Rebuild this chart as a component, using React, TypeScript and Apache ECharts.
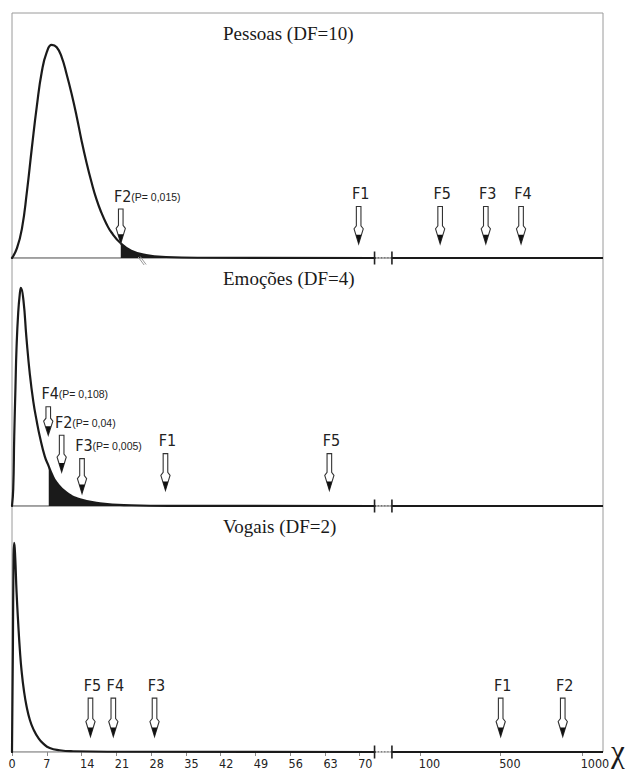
import React, { useEffect, useRef } from "react";
import * as echarts from "echarts";

// ---- axis ----
const tickValues = [0, 7, 14, 21, 28, 35, 42, 49, 56, 63, 70, 100, 500, 1000];
const tickLabels = ["0", "7", "14", "21", "28", "35", "42", "49", "56", "63", "70", "100", "500", "1000"];
const breakStart = 73;
const breakEnd = 76.5;
const axisMax = 119;

// broken x scale: linear up to the break, then 100 / 500 / 1000 anchors
function toAxis(chi: number): number {
  if (chi <= breakStart) return chi;
  if (chi <= 500) return 82.2 + ((chi - 100) / 400) * 16.2;
  return 98.4 + ((chi - 500) / 500) * 16.4;
}
const tickPositions = tickValues.map(toAxis);

// ---- panels ----
const titles = ["Pessoas (DF=10)", "Emoções (DF=4)", "Vogais (DF=2)"];

// curve heights in % of panel height
const pessoasChi = [0, 1, 2, 3, 4, 5, 6, 7, 8, 9, 10, 11, 12, 13, 14, 15, 16, 17, 18, 19, 20, 21.9, 24, 27, 31, 38, 73];
const pessoasH = [0, 4, 12, 27, 45, 62, 76, 84, 87, 86, 82, 75, 67, 58, 48, 39, 31, 24, 18.5, 14, 10.5, 6, 3, 1.2, 0.4, 0.1, 0];
const pessoasShadeFrom = 21.9;

const emocoesChi = [0, 0.25, 0.45, 0.7, 0.9, 1.25, 1.6, 1.8, 2.3, 2.9, 3.6, 4.3, 5, 5.6, 6.6, 7.4, 8, 9, 11, 13.7, 17.7, 24, 32, 73];
const emocoesH = [0, 7, 28, 48, 63, 78, 86, 88, 83, 68, 53, 42, 34, 28, 20, 16, 13, 9.4, 5.4, 2.7, 1.1, 0.3, 0.05, 0];
const emocoesShadeFrom = 7.4;

const vogaisChi = [0, 0.18, 0.32, 0.45, 0.65, 0.92, 1.26, 1.6, 1.93, 2.4, 2.94, 3.6, 4.3, 5.3, 6.3, 7.6, 9.6, 12.3, 20, 73];
const vogaisH = [0, 42, 80, 85, 79, 65, 52, 41, 33, 25, 18.5, 13, 9.3, 5.7, 3.4, 1.6, 0.7, 0.3, 0.1, 0];

// arrows
const pessoasArrowNames = ["F2", "F1", "F5", "F3", "F4"];
const pessoasArrowChi = [21.9, 69.8, 199, 426, 625];
const pessoasArrowTip = [6, 5.8, 5.8, 5.8, 5.8];
const pessoasArrowTop = [20, 21, 21, 21, 21];
const pessoasArrowP = ["(P= 0,015)", "", "", "", ""];

const emocoesArrowNames = ["F4", "F2", "F3", "F1", "F5"];
const emocoesArrowChi = [7.3, 10.0, 14.1, 30.9, 63.9];
const emocoesArrowTip = [28.5, 13.7, 5, 6.3, 6.3];
const emocoesArrowTop = [40, 28.5, 19.1, 21.1, 21.1];
const emocoesArrowP = ["(P= 0,108)", "(P= 0,04)", "(P= 0,005)", "", ""];

const vogaisArrowNames = ["F5", "F4", "F3", "F1", "F2"];
const vogaisArrowChi = [15.8, 20.4, 28.7, 500, 881];
const vogaisArrowTip = [6.3, 6.3, 6.3, 6.3, 6.3];
const vogaisArrowTop = [21.9, 21.9, 21.9, 21.9, 21.9];
const vogaisArrowP = ["", "", "", "", ""];

const panels = [
  { chi: pessoasChi, h: pessoasH, shadeFrom: pessoasShadeFrom as number | null, names: pessoasArrowNames, aChi: pessoasArrowChi, tip: pessoasArrowTip, top: pessoasArrowTop, p: pessoasArrowP },
  { chi: emocoesChi, h: emocoesH, shadeFrom: emocoesShadeFrom as number | null, names: emocoesArrowNames, aChi: emocoesArrowChi, tip: emocoesArrowTip, top: emocoesArrowTop, p: emocoesArrowP },
  { chi: vogaisChi, h: vogaisH, shadeFrom: null as number | null, names: vogaisArrowNames, aChi: vogaisArrowChi, tip: vogaisArrowTip, top: vogaisArrowTop, p: vogaisArrowP },
];

const gridTops = [13, 258, 506];
const gridHeights = [245, 248, 246];
const GRID_LEFT = 12;
const GRID_RIGHT = 28;

const NARROW = "'Liberation Sans Narrow', 'DejaVu Sans Condensed', 'Liberation Sans', Arial, sans-serif";
const SANS = "'Liberation Sans', Arial, sans-serif";
const SERIF = "'Liberation Serif', 'Times New Roman', serif";

export default function App() {
  const ref = useRef<HTMLDivElement>(null);
  useEffect(() => {
    if (!ref.current) return;
    const chart = echarts.init(ref.current, undefined, { renderer: "svg" });

    const grids: any[] = [];
    const xAxes: any[] = [];
    const yAxes: any[] = [];
    const series: any[] = [];

    panels.forEach((pn, i) => {
      grids.push({
        left: GRID_LEFT,
        right: GRID_RIGHT,
        top: gridTops[i],
        height: gridHeights[i],
        show: true,
        borderColor: "#9a9a9a",
        borderWidth: 1,
      });
      const isBottom = i === 2;
      xAxes.push({
        type: "value",
        gridIndex: i,
        min: 0,
        max: axisMax,
        splitLine: { show: false },
        axisLine: { show: false },
        axisTick: isBottom
          ? { show: true, customValues: tickPositions, length: 4, lineStyle: { color: "#8a8a8a", width: 1 } }
          : { show: false },
        axisLabel: { show: false },
      });
      yAxes.push({ type: "value", gridIndex: i, min: 0, max: 100, show: false, splitLine: { show: false } });

      const common = { xAxisIndex: i, yAxisIndex: i, silent: true, symbol: "none", animation: false };
      // baseline pieces
      series.push({ ...common, type: "line", data: [[0, 0], [breakStart, 0]], lineStyle: { color: "#8a8a8a", width: 1 }, z: 1 });
      series.push({ ...common, type: "line", data: [[breakStart, 0], [breakEnd, 0]], lineStyle: { color: "#333", width: 1.2, type: [1.2, 2] }, z: 1 });
      series.push({ ...common, type: "line", data: [[breakEnd, 0], [axisMax, 0]], lineStyle: { color: "#1a1a1a", width: 2 }, z: 3 });

      const curve = pn.chi.map((c, k) => [toAxis(c), pn.h[k]]);
      if (pn.shadeFrom !== null) {
        const shade = pn.chi
          .map((c, k) => [c, pn.h[k]])
          .filter((d) => d[0] >= (pn.shadeFrom as number) && d[0] <= 40)
          .map((d) => [toAxis(d[0]), d[1]]);
        series.push({
          ...common,
          type: "line",
          data: shade,
          smooth: 0.5,
          lineStyle: { width: 0, color: "#1a1a1a" },
          areaStyle: { color: "#1a1a1a", opacity: 1 },
          z: 2,
        });
      }
      series.push({
        ...common,
        type: "line",
        data: curve,
        smooth: 0.5,
        lineStyle: { color: "#1a1a1a", width: 2.2, join: "round", cap: "round" },
        z: 3,
      });

      // break marks
      series.push({
        ...common,
        type: "custom",
        data: [[breakStart, 0], [breakEnd, 0]],
        z: 4,
        renderItem: (_p: any, api: any) => {
          const pt = api.coord([api.value(0), 0]);
          return {
            type: "line",
            shape: { x1: pt[0], y1: pt[1] - 6.5, x2: pt[0], y2: pt[1] + 6.5 },
            style: { stroke: "#222", lineWidth: 1.6 },
          };
        },
      });

      // arrows
      const arrowData = pn.aChi.map((c, k) => [toAxis(c), pn.tip[k], pn.top[k]]);
      series.push({
        ...common,
        type: "custom",
        data: arrowData,
        z: 5,
        clip: false,
        renderItem: (params: any, api: any) => {
          const k = params.dataIndex;
          const tip = api.coord([api.value(0), api.value(1)]);
          const top = api.coord([api.value(0), api.value(2)]);
          const x = tip[0];
          const ty = tip[1];
          const hy = top[1];
          const sw = 2.3;
          const hw = 4.6;
          const neck = Math.min(18, (ty - hy) * 0.6);
          const flare = Math.min(15, (ty - hy) * 0.5);
          const children: any[] = [
            {
              type: "polygon",
              shape: {
                points: [
                  [x - sw, hy],
                  [x + sw, hy],
                  [x + sw, ty - neck],
                  [x + hw, ty - flare],
                  [x, ty],
                  [x - hw, ty - flare],
                  [x - sw, ty - neck],
                ],
              },
              style: { fill: "#fff", stroke: "#333", lineWidth: 1.1 },
            },
            {
              type: "polygon",
              shape: { points: [[x - 2.8, ty - 9], [x + 2.8, ty - 9], [x, ty]] },
              style: { fill: "#111" },
            },
            {
              type: "text",
              style: {
                text: pn.names[k],
                x: x + 2,
                y: hy - 13,
                align: "center",
                verticalAlign: "middle",
                fontSize: 16,
                fontFamily: NARROW,
                fill: "#222",
              },
            },
          ];
          if (pn.p[k]) {
            children.push({
              type: "text",
              style: {
                text: pn.p[k],
                x: x + 10.5,
                y: hy - 12.5,
                align: "left",
                verticalAlign: "middle",
                fontSize: 10.5,
                fontFamily: SANS,
                fill: "#222",
              },
            });
          }
          return { type: "group", children };
        },
      });

      if (i === 0) {
        // small grey leader mark below the shaded tail
        series.push({
          ...common,
          type: "custom",
          data: [[toAxis(25.6), 0]],
          z: 4,
          clip: false,
          renderItem: (_p: any, api: any) => {
            const pt = api.coord([api.value(0), 0]);
            return {
              type: "group",
              children: [
                { type: "line", shape: { x1: pt[0] - 1, y1: pt[1] - 1, x2: pt[0] + 5, y2: pt[1] + 7 }, style: { stroke: "#9a9a9a", lineWidth: 1 } },
                { type: "line", shape: { x1: pt[0] + 1, y1: pt[1] - 1.5, x2: pt[0] + 7, y2: pt[1] + 6.5 }, style: { stroke: "#9a9a9a", lineWidth: 1 } },
              ],
            };
          },
        });
      }

      if (isBottom) {
        // tick labels of the broken axis, placed through the axis scale
        series.push({
          ...common,
          type: "custom",
          data: tickPositions.map((p) => [p, 0]),
          z: 6,
          clip: false,
          renderItem: (params: any, api: any) => {
            const k = params.dataIndex;
            const pt = api.coord([api.value(0), 0]);
            const t = tickLabels[k];
            const single = t.length === 1;
            return {
              type: "text",
              style: {
                text: t,
                x: single ? pt[0] : pt[0] - 1.5,
                y: pt[1] + 5,
                align: single ? "center" : "left",
                verticalAlign: "top",
                fontSize: 12.5,
                fontFamily: NARROW,
                fill: "#222",
              },
            };
          },
        });
      }
    });

    const graphic: any[] = titles.map((t, i) => ({
      type: "text",
      left: 223,
      top: gridTops[i] + 11,
      silent: true,
      style: { text: t, fontSize: 19, fontFamily: SERIF, fill: "#1a1a1a" },
    }));
    graphic.push({
      type: "text",
      left: 611,
      top: 736,
      silent: true,
      style: { text: "χ", fontSize: 31, fontFamily: SERIF, fill: "#1a1a1a" },
    });

    chart.setOption({
      animation: false,
      backgroundColor: "#fff",
      grid: grids,
      xAxis: xAxes,
      yAxis: yAxes,
      series,
      graphic,
    });
    return () => chart.dispose();
  }, []);
  return (
    <div
      ref={ref}
      style={{ position: "fixed", left: 0, top: 0, width: 631, height: 772 }}
    />
  );
}
